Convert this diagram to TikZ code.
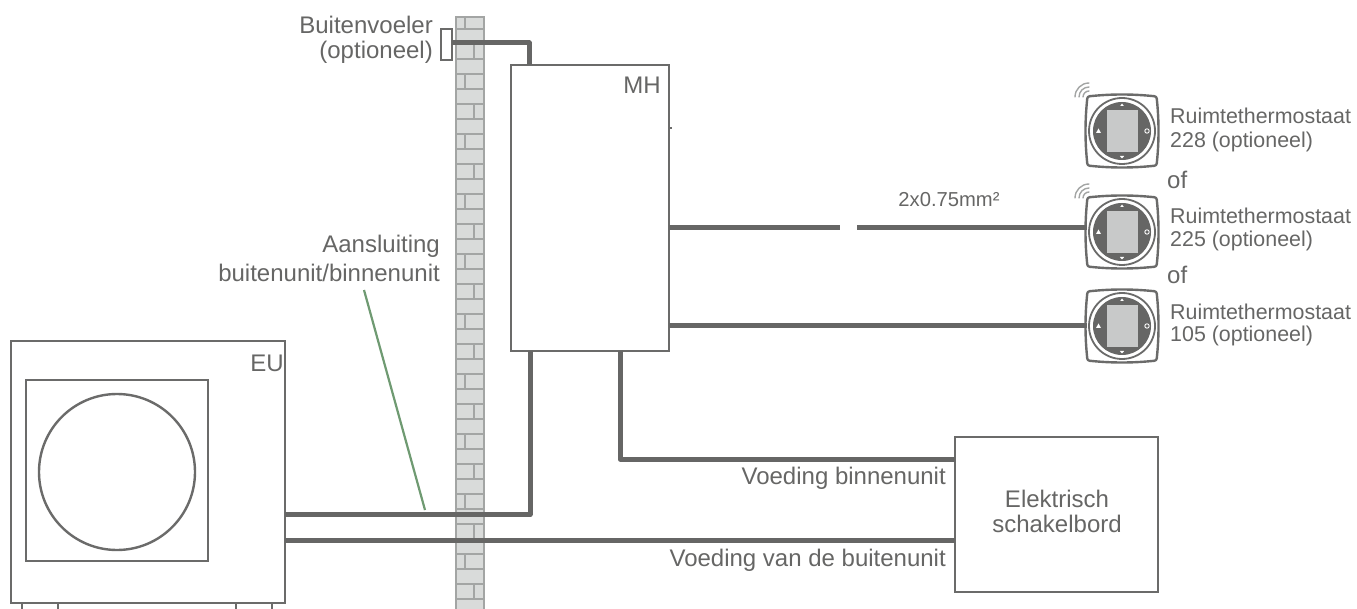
\documentclass[tikz,border=0pt]{standalone}
\usepackage{fontspec}
\setmainfont{Liberation Sans}
\definecolor{ink}{HTML}{666665}
\definecolor{boxline}{HTML}{6B6B6A}
\definecolor{brickfill}{HTML}{D9DBDA}
\definecolor{brickline}{HTML}{A3A5A4}
\definecolor{greenline}{HTML}{6F9A72}
\definecolor{screen}{HTML}{C8C9C9}
\tikzset{
  x=1pt,y=-1pt,
  boxshape/.style={draw=boxline,line width=2.4pt,fill=white,inner sep=0pt,outer sep=0pt,rectangle},
  wire/.style={draw=ink,line width=5pt,line join=round},
  label/.style={text=ink,font=\fontsize{24}{28}\selectfont,inner sep=0pt,align=right},
  smalllabel/.style={text=ink,font=\fontsize{21.4}{25}\selectfont,inner sep=0pt,align=left},
  brick/.style={draw=brickline,line width=2.6pt},
  pics/tstat/.style={code={
    \draw[boxline,line width=2.4pt,fill=white] (-30,-35) .. controls (-10,-37) and (10,-37) .. (30,-35) .. controls (34,-35) and (35,-34) .. (35,-30)
      .. controls (37,-10) and (37,10) .. (35,30) .. controls (35,34) and (34,35) .. (30,35)
      .. controls (10,37) and (-10,37) .. (-30,35) .. controls (-34,35) and (-35,34) .. (-35,30)
      .. controls (-37,10) and (-37,-10) .. (-35,-30) .. controls (-35,-34) and (-34,-35) .. (-30,-35) -- cycle;
    \draw[boxline,line width=1.8pt] (0,0) circle[radius=33];
    \fill[ink] (0,0) circle[radius=29];
    \fill[screen] (-15.5,-21) rectangle (15.5,21);
    \fill[white] (-1.8,-25) -- (1.8,-25) -- (0,-27.5) -- cycle;
    \fill[white] (-2.2,25) -- (2.2,25) -- (0,27.5) -- cycle;
    \fill[white] (-26,2) -- (-21,2) -- (-23.5,-2.5) -- cycle;
    \draw[white,line width=0.9pt] (25,0) circle[radius=2.2];
  }},
  pics/wifi/.style={code={
    \foreach \r in {6,10,14}{
      \draw[brickline,line width=1.4pt,line cap=round] (-\r,0) arc[start angle=180,end angle=270,radius=\r];
    }
  }}
}
\begin{document}
\begin{tikzpicture}
\useasboundingbox (0,0) rectangle (1357,609);
% wall
\fill[brickfill] (456,17) rectangle (484,609);
\foreach \k in {0,...,38}{\draw[brick] (455,29+15*\k) -- (485,29+15*\k);}
\draw[brick] (455,17) -- (485,17);
\foreach \k in {1,5,...,37}{\draw[brick] (474,29+15*\k) -- (474,44+15*\k);}
\foreach \k in {3,7,...,35}{\draw[brick] (465,29+15*\k) -- (465,44+15*\k);}
\draw[brick] (465,17) -- (465,29);
\draw[brick] (456,17) -- (456,609);
\draw[brick] (484,17) -- (484,609);
% outdoor unit
\foreach \n/\x in {a/22,b/58,c/236,d/272}{\draw[boxline,line width=2.4pt] (\x,603) -- (\x,609);}
\node[boxshape,minimum width=274pt,minimum height=262pt] (eu) at (148,472) {};
\node[boxshape,minimum width=182pt,minimum height=181pt] (grille) at (117,470.5) {};
\node[boxshape,circle,minimum size=156pt] (fan) at (117,472) {};
% boxes
\node[boxshape,minimum width=158pt,minimum height=286pt] (mh) at (590,208) {};
\node[boxshape,minimum width=203pt,minimum height=155pt] (board) at (1056.5,514.5) {};
% thermostats
\pic at (1122,131) {tstat};
\pic at (1122,232) {tstat};
\pic at (1122,326) {tstat};
\pic at (1089,97) {wifi};
\pic at (1089,198) {wifi};
\coordinate (t1) at (1087,228);
\coordinate (t2) at (1087,326);
% connectors
\coordinate (gapl) at (840,228);
\coordinate (gapr) at (857,228);
\node[boxshape,minimum width=11pt,minimum height=31pt,fill=none] (sensor) at (446.5,44.5) {};
\draw[wire] (sensor.east |- 0,43) -- (529,43) -- (mh.north -| 529,0);
\draw[wire] (eu.east |- 0,514.5) -- (530,514.5) -- (mh.south -| 530,0);
\draw[wire] (eu.east |- 0,540) -- (board.west |- 0,540);
\draw[wire] (mh.south -| 620,0) -- (620,459) -- (board.west |- 0,459);
\draw[wire] (mh.east |- gapl) -- (gapl);
\draw[wire] (gapr) -- (t1);
\draw[wire] (mh.east |- t2) -- (t2);
\coordinate (leadtop) at (364,290);
\coordinate (leadend) at (425,510);
\draw[greenline,line width=2.2pt] (leadtop) -- (leadend);
\draw[boxline,line width=1.5pt] (mh.east |- 0,128) -- (672,128);
% labels
\node[label,anchor=east] (l1) at (433,25) {Buitenvoeler};
\node[label,anchor=east] (l2) at (433,52) {(optioneel)};
\node[label,anchor=east] (l3) at (440,246) {Aansluiting};
\node[label,anchor=east] (l4) at (440,273) {buitenunit/binnenunit};
\node[label,anchor=east] (l5) at (661,85) {MH};
\node[label,anchor=east] (l6) at (284,363) {EU};
\node[label,anchor=center] (l7) at (1057,499) {Elektrisch};
\node[label,anchor=center] (l8) at (1057,524) {schakelbord};
\node[label,anchor=east] (l9) at (946,478) {Voeding binnenunit};
\node[label,anchor=east] (l10) at (946,560) {Voeding van de buitenunit};
\node[text=ink,font=\fontsize{20.2}{24}\selectfont,inner sep=0pt,anchor=center] (l11) at (949,200) {2x0.75mm²};
\node[label,anchor=west] (o1) at (1167,180) {of};
\node[label,anchor=west] (o2) at (1167,275) {of};
\node[smalllabel,anchor=west] (r1) at (1170,116) {Ruimtethermostaat};
\node[smalllabel,anchor=west] (r2) at (1170,142) {228 (optioneel)};
\node[smalllabel,anchor=west] (r3) at (1170,216) {Ruimtethermostaat};
\node[smalllabel,anchor=west] (r4) at (1170,241) {225 (optioneel)};
\node[smalllabel,anchor=west] (r5) at (1170,312) {Ruimtethermostaat};
\node[smalllabel,anchor=west] (r6) at (1170,336) {105 (optioneel)};
\end{tikzpicture}
\end{document}
